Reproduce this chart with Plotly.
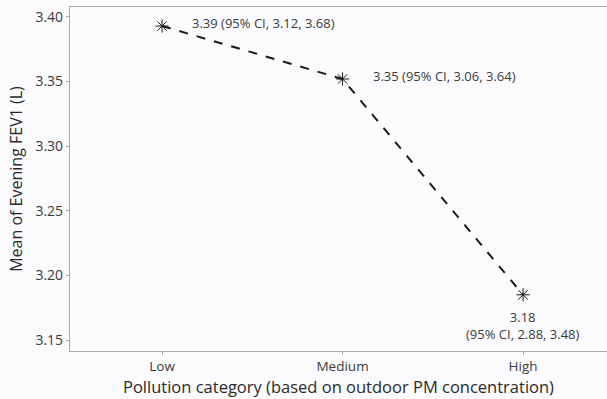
import plotly.graph_objects as go

categories = ["Low", "Medium", "High"]
means = [3.393, 3.352, 3.185]
ci_low = [3.12, 3.06, 2.88]
ci_high = [3.68, 3.64, 3.48]
shown_means = ["3.39", "3.35", "3.18"]

xpos = list(range(len(categories)))
FONT = "Open Sans"
TXT = "#3a3a3a"
TITLE = "#2a2a2a"

fig = go.Figure()
fig.add_trace(go.Scatter(
    x=xpos, y=means, mode="lines+markers",
    line=dict(color="#1a1a1a", width=2, dash="dash"),
    marker=dict(symbol="asterisk-open", size=11, line=dict(color="#1a1a1a", width=1), color="#1a1a1a"),
    showlegend=False, hoverinfo="skip",
))

annotations = []
for i in range(2):
    annotations.append(dict(
        x=xpos[i], y=means[i], xref="x", yref="y",
        text=f"{shown_means[i]} (95% CI, {ci_low[i]:.2f}, {ci_high[i]:.2f})",
        showarrow=False, xanchor="left", yanchor="middle", xshift=28, yshift=3,
        font=dict(family=FONT, size=13, color=TXT),
    ))
annotations.append(dict(
    x=xpos[2], y=means[2], xref="x", yref="y",
    text=f"{shown_means[2]}<br>(95% CI, {ci_low[2]:.2f}, {ci_high[2]:.2f})",
    showarrow=False, xanchor="center", yanchor="top", yshift=-11,
    font=dict(family=FONT, size=13, color=TXT),
))

fig.update_layout(
    width=607, height=399,
    margin=dict(l=70, r=0, t=7, b=48),
    paper_bgcolor="#fbfbfd", plot_bgcolor="#fbfbfd",
    font=dict(family=FONT, color=TXT),
    annotations=annotations,
    xaxis=dict(
        range=[-0.51, 2.465], tickvals=xpos, ticktext=categories,
        showgrid=False, zeroline=False,
        showline=True, linecolor="#a8a8a8", linewidth=1.2, mirror=True,
        ticks="outside", ticklen=3, tickcolor="#a8a8a8",
        tickfont=dict(family=FONT, size=13.5, color=TXT),
        title=dict(text="Pollution category (based on outdoor PM concentration)",
                   font=dict(family=FONT, size=16.5, color=TITLE), standoff=4),
    ),
    yaxis=dict(
        range=[3.1415, 3.4077], tickvals=[3.15, 3.20, 3.25, 3.30, 3.35, 3.40],
        tickformat=".2f",
        showgrid=False, zeroline=False,
        showline=True, linecolor="#a8a8a8", linewidth=1.2,
        ticks="outside", ticklen=3, tickcolor="#a8a8a8",
        tickfont=dict(family=FONT, size=14, color=TXT),
        title=dict(text="Mean of Evening FEV1 (L)",
                   font=dict(family=FONT, size=16, color=TITLE), standoff=8),
    ),
)

fig.write_html("out.html")
